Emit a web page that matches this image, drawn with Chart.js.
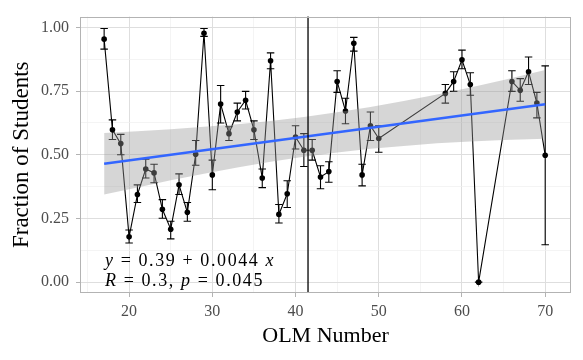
<!DOCTYPE html>
<html>
<head>
<meta charset="utf-8">
<script src="https://cdn.jsdelivr.net/npm/chart.js@4.4.1/dist/chart.umd.min.js"></script>
<style>
  html, body { margin: 0; padding: 0; background: #fff; }
  #wrap { width: 583px; height: 360px; }
</style>
</head>
<body>
<div id="wrap"><canvas id="myChart" width="583" height="360"></canvas></div>
<script>
// OLM number and fraction of students, with error bar ends
const olm = [17, 18, 19, 20, 21, 22, 23, 24, 25, 26, 27, 28, 29, 30, 31, 32, 33, 34,
  35, 36, 37, 38, 39, 40, 41, 42, 43, 44, 45, 46, 47, 48, 49, 50,
  58, 59, 60, 61, 62, 66, 67, 68, 69, 70];
const fraction = [0.954, 0.598, 0.544, 0.178, 0.344, 0.444, 0.429, 0.286, 0.208, 0.382,
  0.274, 0.502, 0.977, 0.421, 0.699, 0.583, 0.668, 0.714, 0.598, 0.409, 0.869, 0.266,
  0.347, 0.570, 0.518, 0.518, 0.413, 0.434, 0.788, 0.672, 0.938, 0.421, 0.614, 0.564,
  0.741, 0.788, 0.873, 0.776, 0.000, 0.788, 0.753, 0.826, 0.703, 0.498];
const errLow = [0.915, 0.560, 0.500, 0.154, 0.313, 0.409, 0.390, 0.251, 0.170, 0.344,
  0.239, 0.459, 0.965, 0.363, 0.625, 0.556, 0.633, 0.680, 0.560, 0.371, 0.838, 0.232,
  0.293, 0.523, 0.454, 0.479, 0.367, 0.392, 0.745, 0.622, 0.907, 0.378, 0.556, 0.510,
  0.703, 0.749, 0.838, 0.734, 0.000, 0.749, 0.710, 0.776, 0.645, 0.147];
const errHigh = [0.996, 0.637, 0.580, 0.205, 0.382, 0.483, 0.463, 0.324, 0.239, 0.425,
  0.313, 0.556, 0.996, 0.479, 0.772, 0.610, 0.703, 0.749, 0.633, 0.444, 0.900, 0.305,
  0.398, 0.614, 0.583, 0.560, 0.457, 0.473, 0.830, 0.722, 0.961, 0.463, 0.668, 0.614,
  0.776, 0.826, 0.911, 0.822, 0.000, 0.830, 0.799, 0.884, 0.745, 0.849];

// fitted line and its confidence band
const fitX = [17, 70];
const fitY = [0.465, 0.698];
const bandX = [17, 21, 25, 29, 33, 37, 41, 45, 49, 53, 57, 61, 65, 70];
const bandLow = [0.344, 0.372, 0.400, 0.426, 0.450, 0.473, 0.492, 0.509, 0.524, 0.535,
  0.545, 0.552, 0.558, 0.563];
const bandHigh = [0.586, 0.592, 0.600, 0.610, 0.620, 0.633, 0.648, 0.667, 0.688, 0.711,
  0.737, 0.764, 0.794, 0.833];

const cutoff = 41.5;

// axis breaks
const xTicks = [20, 30, 40, 50, 60, 70];
const xGrid = [15, 20, 25, 30, 35, 40, 45, 50, 55, 60, 65, 70];
const yTicks = [0, 0.25, 0.5, 0.75, 1];
const yGrid = [0, 0.125, 0.25, 0.375, 0.5, 0.625, 0.75, 0.875, 1];

const eqLine1 = [['y', 'italic'], [' = 0.39 + 0.0044 ', 'normal'], ['x', 'italic']];
const eqLine2 = [['R', 'italic'], [' = 0.3, ', 'normal'], ['p', 'italic'], [' = 0.045', 'normal']];

const SERIF = '"Liberation Serif", "DejaVu Serif", serif';

const pts = (xs, ys) => xs.map((v, i) => ({ x: v, y: ys[i] }));

const whiteBg = {
  id: 'whiteBg',
  beforeDraw(chart) {
    const { ctx } = chart;
    ctx.save();
    ctx.fillStyle = '#fff';
    ctx.fillRect(0, 0, chart.width, chart.height);
    ctx.restore();
  }
};

const errorBars = {
  id: 'errorBars',
  beforeDatasetsDraw(chart) {
    const { ctx, scales: { x, y } } = chart;
    ctx.save();
    ctx.strokeStyle = '#000';
    ctx.lineWidth = 1.1;
    olm.forEach((v, i) => {
      const px = x.getPixelForValue(v);
      const hw = (x.getPixelForValue(v + 0.45) - x.getPixelForValue(v - 0.45)) / 2;
      const yl = y.getPixelForValue(errLow[i]);
      const yh = y.getPixelForValue(errHigh[i]);
      ctx.beginPath();
      ctx.moveTo(px, yl); ctx.lineTo(px, yh);
      ctx.moveTo(px - hw, yl); ctx.lineTo(px + hw, yl);
      ctx.moveTo(px - hw, yh); ctx.lineTo(px + hw, yh);
      ctx.stroke();
    });
    ctx.restore();
  }
};

function drawRich(ctx, parts, x0, y0, size, spacing) {
  let cx = x0;
  parts.forEach(([txt, style]) => {
    ctx.font = style + ' ' + size + 'px ' + SERIF;
    for (const ch of txt) {
      ctx.fillText(ch, cx, y0);
      cx += ctx.measureText(ch).width + spacing;
    }
  });
}

const extras = {
  id: 'extras',
  afterDatasetsDraw(chart) {
    const { ctx, chartArea: a, scales: { x, y } } = chart;
    ctx.save();
    // cutoff line
    ctx.strokeStyle = '#000';
    ctx.lineWidth = 1.3;
    const vx = x.getPixelForValue(cutoff);
    ctx.beginPath();
    ctx.moveTo(vx, a.top); ctx.lineTo(vx, a.bottom);
    ctx.stroke();
    // equation text
    ctx.fillStyle = '#000';
    ctx.textBaseline = 'alphabetic';
    const lx = x.getPixelForValue(17.1);
    drawRich(ctx, eqLine1, lx, y.getPixelForValue(0.062), 18, 1.6);
    drawRich(ctx, eqLine2, lx, y.getPixelForValue(-0.016), 18, 1.6);
    ctx.restore();
  },
  afterDraw(chart) {
    const { ctx, chartArea: a } = chart;
    ctx.save();
    ctx.strokeStyle = '#b3b3b3';
    ctx.lineWidth = 1;
    ctx.strokeRect(Math.round(a.left) + 0.5, Math.round(a.top) + 0.5,
      Math.round(a.right - a.left) - 1, Math.round(a.bottom - a.top) - 1);
    ctx.restore();
  }
};

const ctx = document.getElementById('myChart').getContext('2d');
new Chart(ctx, {
  type: 'line',
  data: {
    datasets: [
      {
        data: pts(bandX, bandLow),
        borderWidth: 0, pointRadius: 0, fill: false, order: 1
      },
      {
        data: pts(bandX, bandHigh),
        borderWidth: 0, pointRadius: 0, order: 1,
        fill: '-1', backgroundColor: 'rgba(153,153,153,0.4)'
      },
      {
        data: pts(fitX, fitY),
        borderColor: '#3366ff', borderWidth: 2.5, pointRadius: 0, order: 0
      },
      {
        data: pts(olm, fraction),
        borderColor: '#000', borderWidth: 1.1,
        pointRadius: 2.8, pointBackgroundColor: '#000', pointBorderWidth: 0,
        tension: 0, order: 3
      }
    ]
  },
  options: {
    responsive: false,
    devicePixelRatio: 1,
    animation: false,
    layout: { padding: { left: 0, right: 12, top: 12, bottom: 0 } },
    plugins: { legend: { display: false }, tooltip: { enabled: false } },
    scales: {
      x: {
        type: 'linear', min: 14.1, max: 73.1,
        afterBuildTicks: s => { s.ticks = xGrid.map(v => ({ value: v })); },
        afterFit: s => { s.height = 67; },
        border: { display: false },
        grid: {
          color: c => xTicks.includes(c.tick.value) ? '#dedede' : '#efefef',
          lineWidth: c => xTicks.includes(c.tick.value) ? 1 : 0.7,
          tickColor: c => xTicks.includes(c.tick.value) ? '#b3b3b3' : 'rgba(0,0,0,0)',
          tickLength: 4
        },
        ticks: {
          autoSkip: false, maxRotation: 0, padding: 5,
          color: '#4d4d4d', font: { family: SERIF, size: 16 },
          callback: v => xTicks.includes(v) ? String(v) : ''
        },
        title: {
          display: true, text: 'OLM Number', color: '#000',
          font: { family: SERIF, size: 22 }, padding: { top: 0, bottom: 11 }
        }
      },
      y: {
        type: 'linear', min: -0.0425, max: 1.0425,
        afterBuildTicks: s => { s.ticks = yGrid.map(v => ({ value: v })); },
        afterFit: s => { s.width = 80; },
        border: { display: false },
        grid: {
          color: c => yTicks.includes(c.tick.value) ? '#dedede' : '#efefef',
          lineWidth: c => yTicks.includes(c.tick.value) ? 1 : 0.7,
          tickColor: c => yTicks.includes(c.tick.value) ? '#b3b3b3' : 'rgba(0,0,0,0)',
          tickLength: 4
        },
        ticks: {
          autoSkip: false, padding: 7,
          color: '#4d4d4d', font: { family: SERIF, size: 16 },
          callback: v => yTicks.includes(v) ? v.toFixed(2) : ''
        },
        title: {
          display: true, text: 'Fraction of Students', color: '#000',
          font: { family: SERIF, size: 23 }, padding: { top: 8, bottom: 0 }
        }
      }
    }
  },
  plugins: [whiteBg, errorBars, extras]
});
</script>
</body>
</html>
